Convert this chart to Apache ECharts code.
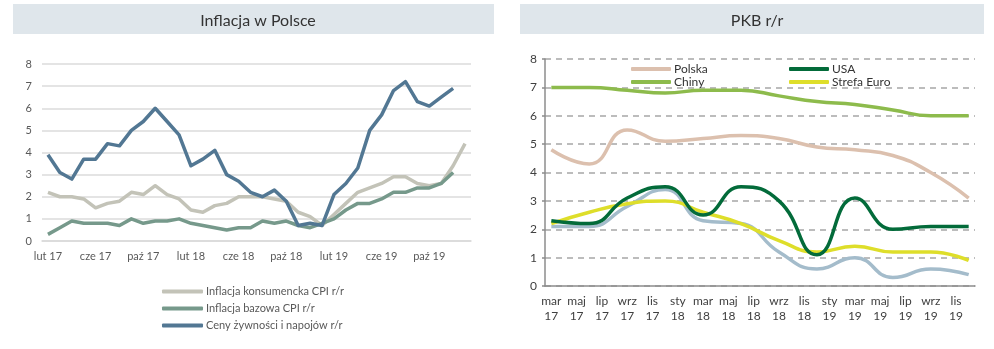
<!DOCTYPE html>
<html>
<head>
<meta charset="utf-8">
<script src="https://cdn.jsdelivr.net/npm/echarts@6/dist/echarts.min.js"></script>
<style>
  html, body { margin: 0; padding: 0; background: #fff; }
  #chart { width: 994px; height: 349px; }
</style>
</head>
<body>
<div id="chart"></div>
<script>
// Inflacja w Polsce: miesięcznie, lut 2017 – sty 2020
const infMonths = [
  'lut 17','mar 17','kwi 17','maj 17','cze 17','lip 17','sie 17','wrz 17','paź 17','lis 17','gru 17',
  'sty 18','lut 18','mar 18','kwi 18','maj 18','cze 18','lip 18','sie 18','wrz 18','paź 18','lis 18','gru 18',
  'sty 19','lut 19','mar 19','kwi 19','maj 19','cze 19','lip 19','sie 19','wrz 19','paź 19','lis 19','gru 19',
  'sty 20'
];
const cpi = [2.2,2.0,2.0,1.9,1.5,1.7,1.8,2.2,2.1,2.5,2.1,1.9,1.4,1.3,1.6,1.7,2.0,2.0,2.0,1.9,1.8,1.3,1.1,0.7,1.2,1.7,2.2,2.4,2.6,2.9,2.9,2.6,2.5,2.6,3.4,4.4];
const coreCpi = [0.3,0.6,0.9,0.8,0.8,0.8,0.7,1.0,0.8,0.9,0.9,1.0,0.8,0.7,0.6,0.5,0.6,0.6,0.9,0.8,0.9,0.7,0.6,0.8,1.0,1.4,1.7,1.7,1.9,2.2,2.2,2.4,2.4,2.6,3.1];
const food = [3.9,3.1,2.8,3.7,3.7,4.4,4.3,5.0,5.4,6.0,5.4,4.8,3.4,3.7,4.1,3.0,2.7,2.2,2.0,2.3,1.8,0.7,0.8,0.7,2.1,2.6,3.3,5.0,5.7,6.8,7.2,6.3,6.1,6.5,6.9];

// PKB r/r: oś miesięczna mar 2017 – gru 2019, dane kwartalne
const gdpMonths = [
  'mar 17','kwi 17','maj 17','cze 17','lip 17','sie 17','wrz 17','paź 17','lis 17','gru 17',
  'sty 18','lut 18','mar 18','kwi 18','maj 18','cze 18','lip 18','sie 18','wrz 18','paź 18','lis 18','gru 18',
  'sty 19','lut 19','mar 19','kwi 19','maj 19','cze 19','lip 19','sie 19','wrz 19','paź 19','lis 19','gru 19'
];
const quarterEnds = ['mar 17','cze 17','wrz 17','gru 17','mar 18','cze 18','wrz 18','gru 18','mar 19','cze 19','wrz 19','gru 19'];
const gdpPolska = [4.8,4.3,5.5,5.1,5.2,5.3,5.2,4.9,4.8,4.6,4.0,3.1];
const gdpChiny  = [7.0,7.0,6.9,6.8,6.9,6.9,6.7,6.5,6.4,6.2,6.0,6.0];
const gdpUsa    = [2.3,2.2,3.1,3.5,2.5,3.5,3.0,1.1,3.1,2.0,2.1,2.1];
const gdpEuro   = [2.2,2.6,2.9,3.0,2.6,2.2,1.6,1.2,1.4,1.2,1.2,0.9];
const gdpNiemcy = [2.1,2.1,2.8,3.4,2.3,2.2,1.2,0.6,1.0,0.3,0.6,0.4];

const quarterly = vals => vals.map((v, i) => [quarterEnds[i], v]);

const FONT = 'Lato, "Open Sans", sans-serif';

const chart = echarts.init(document.getElementById('chart'), null, { renderer: 'canvas' });

const leftLine = (name, data, color) => ({
  name, type: 'line', xAxisIndex: 0, yAxisIndex: 0, data,
  symbol: 'none', lineStyle: { color, width: 3.5, join: 'round' }, itemStyle: { color }
});
const rightLine = (name, data, color) => ({
  name, type: 'line', xAxisIndex: 1, yAxisIndex: 1, data: quarterly(data),
  smooth: 0.5, symbol: 'none', lineStyle: { color, width: 3.5 }, itemStyle: { color }
});

chart.setOption({
  animation: false,
  backgroundColor: '#ffffff',
  graphic: [
    { type: 'rect', shape: { x: 13, y: 4, width: 481, height: 30 }, style: { fill: '#dfe6eb' }, z: -1 },
    { type: 'rect', shape: { x: 520, y: 4, width: 464, height: 30 }, style: { fill: '#dfe6eb' }, z: -1 }
  ],
  title: [
    { text: 'Inflacja w Polsce', left: 253, top: 8, textAlign: 'center',
      textStyle: { fontFamily: FONT, fontSize: 16, fontWeight: 'normal', color: '#333' } },
    { text: 'PKB r/r', left: 752, top: 8, textAlign: 'center',
      textStyle: { fontFamily: FONT, fontSize: 16, fontWeight: 'normal', color: '#333' } }
  ],
  legend: [
    { data: ['Inflacja konsumencka CPI r/r', 'Inflacja bazowa CPI r/r', 'Ceny żywności i napojów r/r'],
      orient: 'vertical', left: 157, top: 280, itemWidth: 41, itemHeight: 4, itemGap: 4,
      icon: 'roundRect', textStyle: { fontFamily: FONT, fontSize: 11, color: '#595959', lineHeight: 13, padding: [0, 0, 0, -2] } },
    { data: ['Polska', 'Chiny'],
      orient: 'vertical', left: 626, top: 58, itemWidth: 40, itemHeight: 4, itemGap: 1,
      icon: 'roundRect', textStyle: { fontFamily: FONT, fontSize: 12, color: '#333', lineHeight: 12, padding: [0, 0, 0, -2] } },
    { data: ['USA', 'Strefa Euro'],
      orient: 'vertical', left: 784, top: 58, itemWidth: 40, itemHeight: 4, itemGap: 1,
      icon: 'roundRect', textStyle: { fontFamily: FONT, fontSize: 12, color: '#333', lineHeight: 12, padding: [0, 0, 0, -2] } }
  ],
  grid: [
    { left: 42, right: 523, top: 64, bottom: 108 },
    { left: 545, right: 19, top: 59, bottom: 63 }
  ],
  xAxis: [
    { type: 'category', gridIndex: 0, data: infMonths, boundaryGap: true,
      axisLine: { lineStyle: { color: '#d9d9d9', width: 1.5 } },
      axisTick: { interval: 3, length: 4, lineStyle: { color: '#d9d9d9', width: 1.5 } },
      axisLabel: { interval: 3, margin: 10, fontFamily: FONT, fontSize: 11, color: '#595959' } },
    { type: 'category', gridIndex: 1, data: gdpMonths, boundaryGap: true,
      axisLine: { lineStyle: { color: '#8c8c8c', width: 1.5 } },
      axisTick: { interval: 1, length: 4, lineStyle: { color: '#8c8c8c', width: 1.5 } },
      axisLabel: { interval: 1, margin: 8, lineHeight: 15, fontFamily: FONT, fontSize: 12, color: '#404040',
        formatter: v => v.replace(' ', '\n') } }
  ],
  yAxis: [
    { type: 'value', gridIndex: 0, min: 0, max: 8, interval: 1,
      axisLine: { show: false }, axisTick: { show: false },
      splitLine: { lineStyle: { color: '#e4e4e4', width: 2 } },
      axisLabel: { margin: 10, fontFamily: FONT, fontSize: 11, color: '#595959' } },
    { type: 'value', gridIndex: 1, min: 0, max: 8, interval: 1,
      axisLine: { show: true, lineStyle: { color: '#8c8c8c', width: 1.5 } },
      axisTick: { show: true, length: 3, lineStyle: { color: '#8c8c8c', width: 1.5 } },
      splitLine: { lineStyle: { color: '#a6a6a6', width: 1.5, type: [6, 5] } },
      axisLabel: { margin: 8, fontFamily: FONT, fontSize: 12, color: '#404040' } }
  ],
  series: [
    leftLine('Inflacja konsumencka CPI r/r', cpi, '#c3c3b8'),
    leftLine('Inflacja bazowa CPI r/r', coreCpi, '#76998b'),
    leftLine('Ceny żywności i napojów r/r', food, '#527793'),
    rightLine('Polska', gdpPolska, '#dcc0ae'),
    rightLine('Chiny', gdpChiny, '#8dbb4c'),
    rightLine('Niemcy', gdpNiemcy, '#a4bccb'),
    rightLine('Strefa Euro', gdpEuro, '#dede2a'),
    rightLine('USA', gdpUsa, '#036b3a')
  ]
});
</script>
</body>
</html>
